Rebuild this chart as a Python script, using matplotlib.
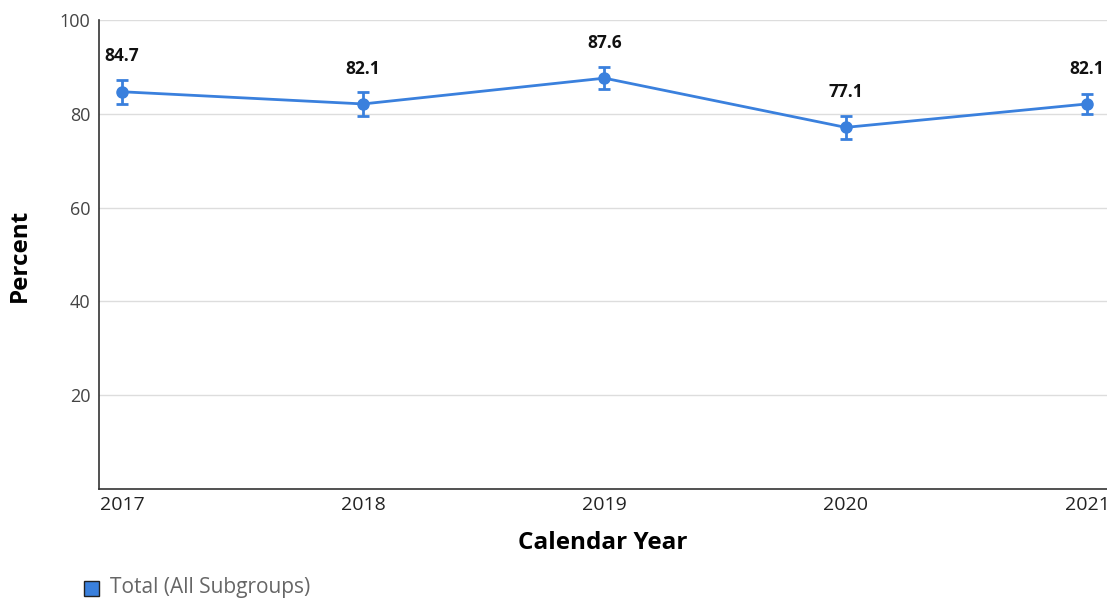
import matplotlib.pyplot as plt
from matplotlib.patches import Rectangle

plt.rcParams['font.family'] = ['Open Sans', 'DejaVu Sans']

# data
years = [2017, 2018, 2019, 2020, 2021]
percent = [84.7, 82.1, 87.6, 77.1, 82.1]
err = [2.6, 2.5, 2.4, 2.5, 2.2]
series_name = 'Total (All Subgroups)'

color = '#3a80dd'

fig = plt.figure(figsize=(11.07, 6.04), dpi=100)
ax = fig.add_axes([0.0894, 0.1904, 0.9106, 0.7765])

ax.errorbar(years, percent, yerr=err, color=color, lw=2, marker='o', ms=8,
            capsize=4, capthick=2, elinewidth=2, zorder=3)

for x, y in zip(years, percent):
    ax.annotate(f'{y}', (x, y), xytext=(0, 19), textcoords='offset points',
                ha='center', va='bottom', fontsize=12.5, fontweight='bold', color='#111111')

ax.set_xlim(2016.905, 2021.083)
ax.set_ylim(0, 100)
ax.set_yticks([20, 40, 60, 80, 100])
ax.set_xticks(years)
ax.grid(axis='y', color='#dddddd', lw=1)
ax.set_axisbelow(True)
for s in ['top', 'right']:
    ax.spines[s].set_visible(False)
ax.spines['left'].set_color('#333333')
ax.spines['bottom'].set_color('#333333')
ax.spines['left'].set_linewidth(1.2)
ax.spines['bottom'].set_linewidth(1.2)
ax.tick_params(axis='y', length=0, labelsize=13, labelcolor='#444444', pad=6)
ax.tick_params(axis='x', length=0, labelsize=14, labelcolor='#222222', pad=5)

ax.set_xlabel('Calendar Year', fontsize=17.5, fontweight='bold', labelpad=12)
fig.text(20 / 1107, 1 - 255 / 604, 'Percent', fontsize=17.5, fontweight='bold',
         rotation=90, ha='center', va='center')

# legend
fig.patches.append(Rectangle((84 / 1107, 1 - 596 / 604), 15 / 1107, 15 / 604,
                             transform=fig.transFigure, facecolor=color,
                             edgecolor='#222222', lw=1))
fig.text(110 / 1107, 1 - 588 / 604, series_name, fontsize=15, color='#666666',
         va='center', ha='left')

fig.savefig('out.png', dpi=100)
